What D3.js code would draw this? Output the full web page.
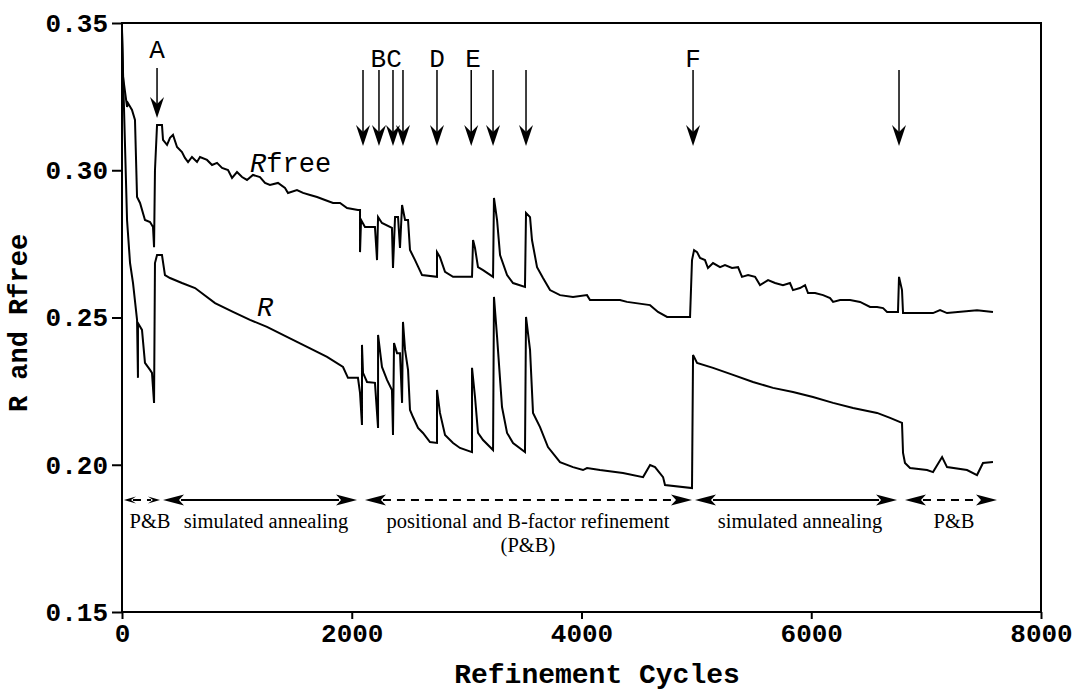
<!DOCTYPE html>
<html>
<head>
<meta charset="utf-8">
<script src="https://cdn.jsdelivr.net/npm/d3@7/dist/d3.min.js"></script>
<style>
  body { margin: 0; background: #fff; }
  svg { display: block; }
</style>
</head>
<body>
<svg id="chart" width="1081" height="690"></svg>
<script>
// Rfree trace, [refinement cycle, value]
const rfree = [
  [0, 0.348], [9, 0.3317], [44, 0.3215], [52, 0.3228], [87, 0.3205], [113, 0.3171],
  [131, 0.2909], [157, 0.2889], [200, 0.2831], [244, 0.2824], [270, 0.2807], [279, 0.2739],
  [287, 0.300], [305, 0.3154], [348, 0.3154], [357, 0.3103], [392, 0.3086], [418, 0.3110],
  [444, 0.3120], [479, 0.3079], [522, 0.3062], [548, 0.3042], [575, 0.3028], [609, 0.3045],
  [653, 0.3028], [679, 0.3045], [740, 0.3035], [784, 0.3018], [827, 0.3025], [871, 0.3008],
  [923, 0.3001], [958, 0.2974], [1001, 0.2994], [1045, 0.2977], [1088, 0.2967], [1140, 0.2984],
  [1201, 0.2977], [1245, 0.2957], [1288, 0.2950], [1358, 0.2957], [1419, 0.2940],
  [1445, 0.2923], [1523, 0.2933], [1576, 0.2923], [1637, 0.2916], [1698, 0.2909],
  [1767, 0.2899], [1837, 0.2889], [1898, 0.2889], [1959, 0.2872], [2054, 0.2865],
  [2072, 0.2865], [2072, 0.2722], [2081, 0.2831], [2115, 0.2807], [2202, 0.2807],
  [2220, 0.2695], [2229, 0.2841], [2263, 0.2821], [2350, 0.2804], [2359, 0.2668],
  [2377, 0.2841], [2403, 0.2841], [2420, 0.2736], [2438, 0.2882], [2464, 0.2831],
  [2490, 0.2831], [2507, 0.2729], [2551, 0.2695], [2612, 0.2644], [2742, 0.2638],
  [2742, 0.2722], [2768, 0.2705], [2812, 0.2655], [2882, 0.2638], [3047, 0.2638],
  [3056, 0.2763], [3073, 0.2736], [3099, 0.2671], [3143, 0.2661], [3230, 0.2638],
  [3238, 0.2906], [3265, 0.2831], [3291, 0.2712], [3352, 0.2644], [3404, 0.2617],
  [3508, 0.2604], [3517, 0.2855], [3552, 0.2841], [3569, 0.2763], [3613, 0.2671],
  [3665, 0.2634], [3726, 0.2593], [3813, 0.2576], [3926, 0.2570], [4048, 0.2576],
  [4074, 0.2559], [4335, 0.2559], [4396, 0.2553], [4597, 0.2542], [4666, 0.2519],
  [4745, 0.2502], [4945, 0.2502], [4962, 0.2695], [4980, 0.2729], [5006, 0.2722],
  [5032, 0.2702], [5075, 0.2695], [5101, 0.2668], [5145, 0.2685], [5206, 0.2671],
  [5249, 0.2678], [5310, 0.2668], [5363, 0.2671], [5397, 0.2638], [5450, 0.2644],
  [5511, 0.2638], [5554, 0.2610], [5624, 0.2627], [5685, 0.2617], [5754, 0.2610],
  [5815, 0.2617], [5841, 0.2593], [5902, 0.2600], [5946, 0.2610], [5972, 0.2583],
  [6033, 0.2583], [6103, 0.2576], [6164, 0.2566], [6190, 0.2553], [6251, 0.2559],
  [6338, 0.2559], [6425, 0.2553], [6512, 0.2536], [6573, 0.2536], [6625, 0.2532],
  [6660, 0.2519], [6755, 0.2519], [6764, 0.2638], [6790, 0.2593], [6799, 0.2515],
  [6921, 0.2515], [7060, 0.2515], [7121, 0.2525], [7182, 0.2515], [7443, 0.2525],
  [7582, 0.2519]
];

// R (working set) trace, [refinement cycle, value]
const rwork = [
  [0, 0.347], [9, 0.333], [44, 0.283], [70, 0.2685], [96, 0.2617], [131, 0.2492],
  [139, 0.2295], [139, 0.2481], [174, 0.2458], [200, 0.2346], [244, 0.2322], [261, 0.2312],
  [279, 0.2210], [287, 0.2685], [305, 0.2712], [348, 0.2712], [374, 0.2644], [418, 0.2634],
  [522, 0.2617], [636, 0.2600], [810, 0.2549], [966, 0.2519], [1114, 0.2492], [1262, 0.2468],
  [1436, 0.2434], [1611, 0.2400], [1785, 0.2366], [1924, 0.2332], [1967, 0.2295],
  [2054, 0.2295], [2072, 0.2244], [2089, 0.2135], [2089, 0.2407], [2098, 0.2312],
  [2133, 0.2281], [2202, 0.2278], [2229, 0.2125], [2229, 0.2441], [2263, 0.2332],
  [2307, 0.2288], [2350, 0.2254], [2359, 0.2101], [2368, 0.2413], [2394, 0.2379],
  [2420, 0.2379], [2438, 0.2210], [2446, 0.2485], [2464, 0.2390], [2490, 0.2322],
  [2507, 0.2186], [2533, 0.2162], [2577, 0.2125], [2620, 0.2108], [2681, 0.2077],
  [2742, 0.2074], [2742, 0.2254], [2768, 0.2176], [2812, 0.2101], [2882, 0.2074],
  [2942, 0.2057], [3047, 0.2043], [3047, 0.2329], [3073, 0.2230], [3099, 0.2108],
  [3143, 0.2084], [3230, 0.2050], [3238, 0.2570], [3265, 0.2434], [3308, 0.2196],
  [3352, 0.2108], [3404, 0.2074], [3508, 0.2043], [3517, 0.2502], [3552, 0.2390],
  [3578, 0.2176], [3639, 0.2128], [3708, 0.2060], [3813, 0.2009], [3926, 0.1992],
  [4013, 0.1982], [4048, 0.1989], [4161, 0.1982], [4361, 0.1972], [4536, 0.1958],
  [4597, 0.1999], [4640, 0.1992], [4710, 0.1958], [4727, 0.1931], [4962, 0.1921],
  [4971, 0.2373], [5006, 0.2346], [5145, 0.2329], [5319, 0.2305], [5493, 0.2281],
  [5667, 0.2261], [5841, 0.2247], [6015, 0.2230], [6190, 0.2210], [6364, 0.2193],
  [6573, 0.2176], [6686, 0.2159], [6790, 0.2142], [6799, 0.2040], [6816, 0.2006],
  [6860, 0.1989], [7008, 0.1982], [7060, 0.1975], [7139, 0.2026], [7182, 0.1992],
  [7356, 0.1982], [7443, 0.1965], [7495, 0.2006], [7582, 0.2009]
];

// event arrows along the top (cycle where something was changed)
const eventCycles = [305, 2098, 2237, 2359, 2446, 2742, 3040, 3230, 3517, 4971, 6764];
const eventLabels = [
  { cycle: 305, text: "A" },
  { cycle: 2300, text: "BC" },
  { cycle: 2742, text: "D" },
  { cycle: 3056, text: "E" },
  { cycle: 4971, text: "F" }
];

// refinement protocol phases
const phases = [
  { from: 17, to: 331, dashed: true, label: "P&B", at: 244 },
  { from: 357, to: 2046, dashed: false, label: "simulated annealing", at: 1254 },
  { from: 2115, to: 4962, dashed: true, label: "positional and B-factor refinement", sub: "(P&B)", at: 3534 },
  { from: 4988, to: 6747, dashed: false, label: "simulated annealing", at: 5902 },
  { from: 6816, to: 7617, dashed: true, label: "P&B", at: 7243 }
];

const xTicks = [0, 2000, 4000, 6000, 8000];
const yTicks = [0.15, 0.20, 0.25, 0.30, 0.35];

const mono = "'Courier New', 'Liberation Mono', monospace";
const serif = "'Times New Roman', 'Liberation Serif', serif";

const svg = d3.select("#chart");

const x = d3.scaleLinear().domain([0, 8000]).range([122, 1041]);
const y = d3.scaleLinear().domain([0.15, 0.35]).range([612, 23]);

// axes
const yAxis = svg.append("g")
  .attr("transform", `translate(${x(0)},0)`)
  .call(d3.axisLeft(y).tickValues(yTicks).tickFormat(d3.format(".2f"))
    .tickSize(10).tickSizeOuter(0).tickPadding(4));

const xAxis = svg.append("g")
  .attr("transform", `translate(0,${y(0.15)})`)
  .call(d3.axisBottom(x).tickValues(xTicks).tickFormat(d3.format("d"))
    .tickSize(7).tickSizeOuter(0).tickPadding(5));

[xAxis, yAxis].forEach(ax => {
  ax.select(".domain").remove();
  ax.selectAll("line").attr("stroke", "#000").attr("stroke-width", 2);
  ax.selectAll("text")
    .attr("fill", "#000")
    .style("font-family", mono)
    .style("font-weight", "bold")
    .style("font-size", "26px");
});

// frame
svg.append("rect")
  .attr("x", x(0)).attr("y", y(0.35))
  .attr("width", x(8000) - x(0)).attr("height", y(0.15) - y(0.35))
  .attr("fill", "none").attr("stroke", "#000").attr("stroke-width", 2);

// curves
const line = d3.line().x(d => x(d[0])).y(d => y(d[1]));

svg.selectAll(".trace")
  .data([rfree, rwork])
  .enter()
  .append("path")
  .attr("class", "trace")
  .attr("d", line)
  .attr("fill", "none")
  .attr("stroke", "#000")
  .attr("stroke-width", 2);

// curve labels
const rfreeLabel = svg.append("text")
  .attr("x", x(1115)).attr("y", y(0.2994))
  .style("font-family", mono).style("font-size", "27px");
rfreeLabel.append("tspan").style("font-style", "italic").text("R");
rfreeLabel.append("tspan").text("free");

svg.append("text")
  .attr("x", x(1175)).attr("y", y(0.2505))
  .style("font-family", mono).style("font-size", "27px")
  .style("font-style", "italic")
  .text("R");

// event arrows
function downHead(cx, tip) {
  return `M${cx},${tip} L${cx - 7},${tip - 21} L${cx},${tip - 14} L${cx + 7},${tip - 21} Z`;
}

const events = svg.append("g").attr("class", "events");
eventCycles.forEach((c, i) => {
  const top = i === 0 ? 68 : 70;
  const tip = i === 0 ? 118 : 146;
  events.append("line")
    .attr("x1", x(c)).attr("x2", x(c))
    .attr("y1", top).attr("y2", tip - 8)
    .attr("stroke", "#000").attr("stroke-width", 1.5);
  events.append("path")
    .attr("d", downHead(x(c), tip))
    .attr("fill", "#000");
});

events.selectAll("text")
  .data(eventLabels)
  .enter()
  .append("text")
  .attr("x", d => x(d.cycle))
  .attr("y", d => d.text === "A" ? 58 : 67)
  .attr("text-anchor", "middle")
  .style("font-family", mono)
  .style("font-size", "26px")
  .text(d => d.text);

// phase bars
const barY = 500;
function sideHead(tipX, dir, len, w) {
  const bx = tipX + dir * len;
  const nx = tipX + dir * (len - 5);
  return `M${tipX},${barY} L${bx},${barY - w} L${nx},${barY} L${bx},${barY + w} Z`;
}

const bars = svg.append("g").attr("class", "phases");
phases.forEach(p => {
  const x1 = x(p.from), x2 = x(p.to);
  const len = Math.min(21, (x2 - x1) / 3);
  const w = len < 15 ? 3.5 : 5.5;
  bars.append("line")
    .attr("x1", x1 + len - 3).attr("x2", x2 - len + 3)
    .attr("y1", barY).attr("y2", barY)
    .attr("stroke", "#000").attr("stroke-width", 2)
    .attr("stroke-dasharray", p.dashed ? "8,6" : null);
  bars.append("path").attr("d", sideHead(x1, 1, len, w)).attr("fill", "#000");
  bars.append("path").attr("d", sideHead(x2, -1, len, w)).attr("fill", "#000");
  bars.append("text")
    .attr("x", x(p.at)).attr("y", 528)
    .attr("text-anchor", "middle")
    .style("font-family", serif).style("font-size", "20.5px")
    .text(p.label);
  if (p.sub) {
    bars.append("text")
      .attr("x", x(p.at)).attr("y", 552)
      .attr("text-anchor", "middle")
      .style("font-family", serif).style("font-size", "20.5px")
      .text(p.sub);
  }
});

// axis titles
svg.append("text")
  .attr("x", 597).attr("y", 683)
  .attr("text-anchor", "middle")
  .style("font-family", mono).style("font-weight", "bold").style("font-size", "28px")
  .text("Refinement Cycles");

svg.append("text")
  .attr("transform", "translate(27,323) rotate(-90)")
  .attr("text-anchor", "middle")
  .style("font-family", mono).style("font-weight", "bold").style("font-size", "27px")
  .text("R and Rfree");
</script>
</body>
</html>
